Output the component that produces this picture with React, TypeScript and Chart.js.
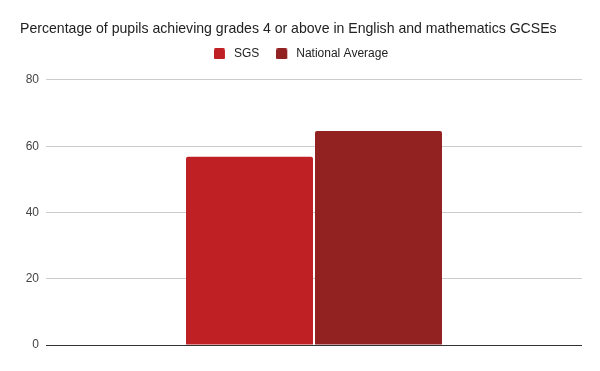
import React, { useEffect, useRef } from "react";
import { Chart, registerables } from "chart.js";

Chart.register(...registerables);

const categories = [""];
const sgsValues = [56.8];
const nationalValues = [64.6];
const seriesColors = ["#bf2024", "#922122"];
const titleText = "Percentage of pupils achieving grades 4 or above in English and mathematics GCSEs";

const FONT = "'Liberation Sans', Arial, sans-serif";

function makeSwatch(color: string) {
  const c = document.createElement("canvas");
  c.width = 14;
  c.height = 11;
  const g = c.getContext("2d")!;
  g.fillStyle = color;
  g.beginPath();
  (g as any).roundRect ? (g as any).roundRect(0, 0, 11, 11, 1.5) : g.rect(0, 0, 11, 11);
  g.fill();
  return c;
}

const legendMargin = {
  id: "legendMargin",
  beforeInit(chart: any) {
    const origFit = chart.legend.fit;
    chart.legend.fit = function () {
      origFit.bind(chart.legend)();
      this.height += 10;
    };
  },
};

export default function App() {
  const ref = useRef<HTMLCanvasElement>(null);
  useEffect(() => {
    document.body.style.margin = "0";
    const swatches = seriesColors.map(makeSwatch);
    const chart = new Chart(ref.current!, {
      type: "bar",
      data: {
        labels: categories,
        datasets: [
          { label: "SGS", data: sgsValues, backgroundColor: seriesColors[0], borderRadius: 2, borderSkipped: "bottom" },
          { label: "National Average", data: nationalValues, backgroundColor: seriesColors[1], borderRadius: 2, borderSkipped: "bottom" },
        ],
      },
      plugins: [legendMargin],
      options: {
        animation: false,
        responsive: false,
        maintainAspectRatio: false,
        layout: { padding: { left: 20, right: 18, top: 0, bottom: 26 } },
        datasets: { bar: { categoryPercentage: 0.4813, barPercentage: 0.9845 } },
        plugins: {
          title: {
            display: true,
            align: "start",
            text: titleText,
            color: "#222",
            font: { family: FONT, size: 14.1, weight: "normal" },
            padding: { top: 21, bottom: -7 },
          },
          legend: {
            display: true,
            labels: {
              color: "#222",
              font: { family: FONT, size: 12 },
              usePointStyle: true,
              pointStyleWidth: 14,
              boxHeight: 11,
              padding: 17,
              generateLabels(chart: any) {
                const items = Chart.defaults.plugins.legend.labels.generateLabels(chart);
                return items.map((it: any, i: number) => ({ ...it, pointStyle: swatches[i] }));
              },
            },
          },
          tooltip: { enabled: false },
        },
        scales: {
          x: {
            ticks: { display: false },
            grid: { display: false, drawTicks: false },
            border: { display: false },
          },
          y: {
            min: 0,
            max: 80,
            afterFit(scale: any) {
              scale.width = 26;
            },
            ticks: {
              stepSize: 20,
              color: "#444",
              padding: 7,
              font: { family: FONT, size: 12 },
            },
            grid: {
              drawTicks: false,
              color: (ctx: any) => (ctx.tick && ctx.tick.value === 0 ? "#333" : "#cccccc"),
            },
            border: { display: false },
          },
        },
      },
    });
    return () => chart.destroy();
  }, []);
  return (
    <div style={{ width: 600, height: 371, background: "#fff" }}>
      <canvas ref={ref} width={600} height={371} style={{ width: 600, height: 371, display: "block" }} />
    </div>
  );
}
